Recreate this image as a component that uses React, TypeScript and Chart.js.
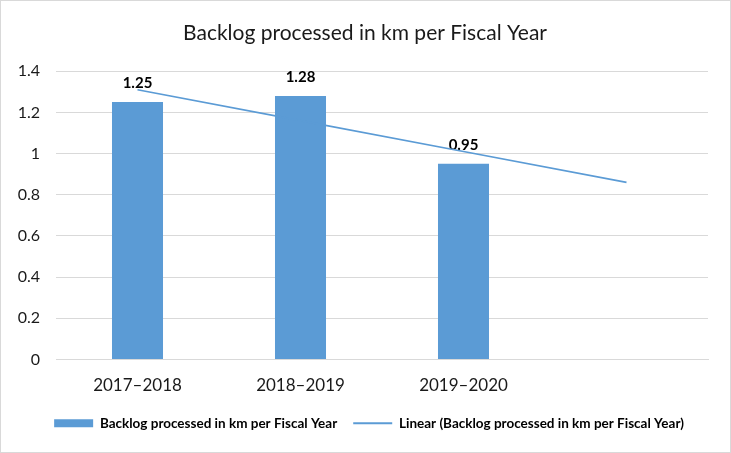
import { useEffect, useRef } from "react";
import { Chart, registerables } from "chart.js";

Chart.register(...registerables);

const titleText = "Backlog processed in km per Fiscal Year";
const categories = ["2017–2018", "2018–2019", "2019–2020", ""];
const barLabel = "Backlog processed in km per Fiscal Year";
const backlogKm: (number | null)[] = [1.25, 1.28, 0.95, null];
const trendLabel = "Linear (Backlog processed in km per Fiscal Year)";
const linearTrend = [1.31, 1.16, 1.01, 0.86];
const yMin = 0;
const yMax = 1.4;
const yStep = 0.2;

const FONT = "Lato, 'Open Sans', sans-serif";
const BLUE = "#5b9bd5";
const GRID = "#d9d9d9";

const framePlugin = {
  id: "frame",
  beforeDraw(chart: any) {
    const { ctx, width, height } = chart;
    ctx.save();
    ctx.fillStyle = "#ffffff";
    ctx.fillRect(0, 0, width, height);
    ctx.restore();
  },
  afterDraw(chart: any) {
    const { ctx, width, height } = chart;
    ctx.save();
    ctx.strokeStyle = GRID;
    ctx.lineWidth = 1;
    ctx.strokeRect(0.5, 0.5, width - 1, height - 1);
    ctx.restore();
  },
};

// centre the title and legend on the whole frame rather than the plot box
const centerBoxesPlugin = {
  id: "centerBoxes",
  afterLayout(chart: any) {
    const shift = (box: any, dx: number) => {
      if (!box) return;
      box.left += dx;
      box.right += dx;
    };
    shift(chart.legend, 15);
    shift(chart.titleBlock, 11);
  },
};

const valueLabelPlugin = {
  id: "valueLabels",
  afterDatasetDraw(chart: any, args: any) {
    if (args.index !== 0) return;
    const { ctx } = chart;
    const meta = chart.getDatasetMeta(0);
    ctx.save();
    ctx.font = `bold 15px ${FONT}`;
    ctx.fillStyle = "#000000";
    ctx.textAlign = "center";
    ctx.textBaseline = "middle";
    meta.data.forEach((el: any, i: number) => {
      const v = backlogKm[i];
      if (v == null) return;
      ctx.fillText(v.toFixed(2), el.x, el.y - 19);
    });
    ctx.restore();
  },
};

export default function App() {
  const ref = useRef<HTMLCanvasElement | null>(null);

  useEffect(() => {
    if (!ref.current) return;
    const chart = new Chart(ref.current, {
      type: "bar",
      data: {
        labels: categories,
        datasets: [
          {
            type: "bar",
            label: barLabel,
            data: backlogKm as any,
            backgroundColor: BLUE,
            borderWidth: 0,
            barPercentage: 0.313,
            categoryPercentage: 1,
            order: 1,
          },
          {
            type: "line",
            label: trendLabel,
            data: linearTrend,
            borderColor: BLUE,
            backgroundColor: BLUE,
            borderWidth: 1.6,
            pointRadius: 0,
            fill: false,
            order: 0,
          } as any,
        ],
      },
      options: {
        animation: false,
        responsive: false,
        layout: { padding: { left: 0, right: 23, top: 0, bottom: 13 } },
        plugins: {
          title: {
            display: true,
            text: titleText,
            color: "#1a1a1a",
            font: { family: FONT, size: 21, weight: "normal" },
            padding: { top: 21, bottom: 25 },
          },
          legend: {
            display: true,
            position: "bottom",
            labels: {
              usePointStyle: true,
              pointStyleWidth: 39,
              boxHeight: 8,
              padding: 16,
              color: "#000000",
              font: { family: FONT, size: 13.5, weight: "bold" },
              sort: (a: any, b: any) => a.datasetIndex - b.datasetIndex,
              generateLabels(chart: any) {
                const items = Chart.defaults.plugins.legend.labels.generateLabels(chart);
                return items.map((it: any) => ({
                  ...it,
                  pointStyle: it.datasetIndex === 0 ? "rect" : "line",
                  fillStyle: BLUE,
                  strokeStyle: BLUE,
                  lineWidth: it.datasetIndex === 0 ? 0 : 2,
                }));
              },
            },
          },
          tooltip: { enabled: false },
        },
        scales: {
          x: {
            grid: { display: false, drawTicks: false },
            border: { display: true, color: GRID, width: 1 },
            ticks: {
              color: "#1a1a1a",
              padding: 16,
              font: { family: FONT, size: 17 },
            },
            afterFit(scale: any) {
              scale.height = 41;
            },
          },
          y: {
            min: yMin,
            max: yMax,
            grid: { color: GRID, drawTicks: false, lineWidth: 1 },
            border: { display: false },
            ticks: {
              stepSize: yStep,
              color: "#1a1a1a",
              padding: 16,
              font: { family: FONT, size: 16 },
              callback: (v: any) => String(Math.round(Number(v) * 10) / 10),
            },
            afterFit(scale: any) {
              scale.width = 56;
            },
          },
        },
      },
      plugins: [framePlugin, centerBoxesPlugin, valueLabelPlugin],
    });
    return () => chart.destroy();
  }, []);

  return (
    <div style={{ position: "fixed", left: 0, top: 0, width: 731, height: 453 }}>
      <canvas ref={ref} width={731} height={453} style={{ display: "block", width: 731, height: 453 }} />
    </div>
  );
}
